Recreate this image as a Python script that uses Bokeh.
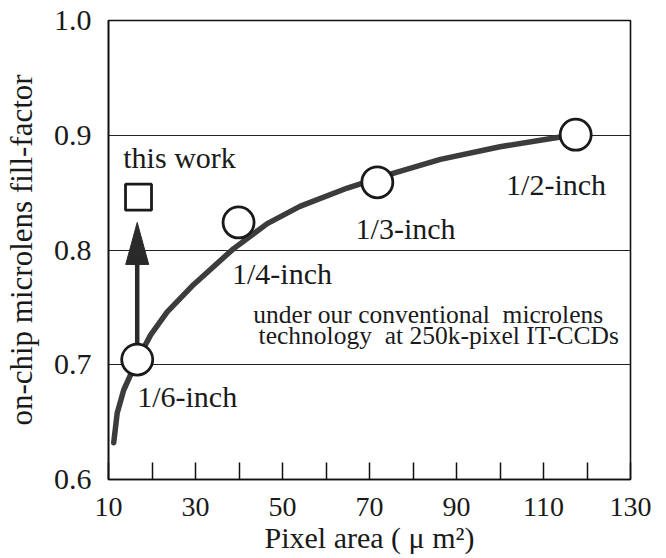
from bokeh.plotting import figure
from bokeh.models import FixedTicker, Label, PrintfTickFormatter
from bokeh.embed import file_html
from bokeh.resources import INLINE

QFONT = "'Liberation Serif'"

# ---- data ----
curve_x = [11.2, 12.0, 13.5, 16.6, 19.7, 23.5, 29.6, 38.7, 46.5, 54.0, 64.9, 75.6, 86.3, 100.0, 113.9, 117.4]
curve_y = [0.632, 0.658, 0.678, 0.704, 0.726, 0.746, 0.770, 0.801, 0.823, 0.838, 0.854, 0.867, 0.879, 0.890, 0.8985, 0.9005]

sensor_x = [16.6, 39.9, 71.8, 117.4]
sensor_y = [0.7045, 0.824, 0.859, 0.9005]
sensor_labels = ["1/6-inch", "1/4-inch", "1/3-inch", "1/2-inch"]
sensor_label_x = [16.6, 38.4, 66.8, 101.4]
sensor_label_y = [0.6645, 0.772, 0.811, 0.849]

this_work_x = [16.9]
this_work_y = [0.846]
this_work_label = "this work"
this_work_label_x = 13.4
this_work_label_y = 0.873

arrow_x = 16.6
arrow_y0 = 0.715
arrow_y1 = 0.824

note_lines = ["under our conventional\u00a0 microlens", "technology\u00a0 at 250k-pixel IT-CCDs"]
note_x = [43.3, 44.5]
note_y = [0.7356, 0.718]

x_label_ticks = [10, 30, 50, 70, 90, 110, 130]
x_minor_ticks = [20, 40, 60, 80, 100, 120]
y_ticks = [0.6, 0.7, 0.8, 0.9, 1.0]
y_grid = [0.7, 0.8, 0.9]

x_title = "Pixel area ( \u03bc m\u00b2)"
y_title = "on-chip microlens fill-factor"

X_RANGE = (10, 130)
Y_RANGE = (0.6, 1.0)

# ---- layout ----
W, H = 666, 558
BL, BR, BT, BB = 108, 36, 20, 79
FRAME_W = W - BL - BR
FRAME_H = H - BT - BB
INK = "#1a1a1a"
TEXT_LIFT = 9

p = figure(width=W, height=H, x_range=X_RANGE, y_range=Y_RANGE,
           output_backend="svg", toolbar_location=None,
           min_border_left=BL, min_border_right=BR, min_border_top=BT, min_border_bottom=BB)
p.background_fill_color = "white"
p.border_fill_color = "white"
p.outline_line_color = "#111111"
p.outline_line_width = 1.6

# x axis
p.xaxis.ticker = FixedTicker(ticks=x_label_ticks, minor_ticks=x_minor_ticks)
p.xaxis.major_tick_in = 17
p.xaxis.major_tick_out = 0
p.xaxis.minor_tick_in = 17
p.xaxis.minor_tick_out = 0
p.xaxis.major_tick_line_color = "#111111"
p.xaxis.minor_tick_line_color = "#111111"
p.xaxis.major_tick_line_width = 1.5
p.xaxis.minor_tick_line_width = 1.5
p.xaxis.axis_line_color = "#111111"
p.xaxis.axis_line_width = 1.6
p.xaxis.major_label_standoff = 18
p.xaxis.major_label_text_font = QFONT
p.xaxis.major_label_text_font_size = "28px"
p.xaxis.major_label_text_color = INK
p.xaxis.axis_label = x_title
p.xaxis.axis_label_text_font = QFONT
p.xaxis.axis_label_text_font_size = "30px"
p.xaxis.axis_label_text_font_style = "normal"
p.xaxis.axis_label_text_color = INK
p.xaxis.axis_label_standoff = 2

# y axis
p.yaxis.ticker = FixedTicker(ticks=y_ticks)
p.yaxis.formatter = PrintfTickFormatter(format="%.1f")
p.yaxis.major_tick_in = 0
p.yaxis.major_tick_out = 0
p.yaxis.minor_tick_line_color = None
p.yaxis.axis_line_color = "#111111"
p.yaxis.axis_line_width = 1.6
p.yaxis.major_label_standoff = 17
p.yaxis.major_label_text_font = QFONT
p.yaxis.major_label_text_font_size = "30px"
p.yaxis.major_label_text_color = INK
p.yaxis.axis_label = y_title
p.yaxis.axis_label_text_font = QFONT
p.yaxis.axis_label_text_font_size = "31px"
p.yaxis.axis_label_text_font_style = "normal"
p.yaxis.axis_label_text_color = INK
p.yaxis.axis_label_standoff = 12

# grid
p.xgrid.visible = False
p.ygrid.ticker = FixedTicker(ticks=y_grid)
p.ygrid.grid_line_color = "#222222"
p.ygrid.grid_line_width = 1.1

# fitted curve
p.line(curve_x, curve_y, line_color="#3c3c3c", line_width=5.5, line_cap="round", line_join="round")

# arrow
px_x = (X_RANGE[1] - X_RANGE[0]) / FRAME_W
px_y = (Y_RANGE[1] - Y_RANGE[0]) / FRAME_H
head_len = 42 * px_y
head_half = 11.5 * px_x
p.line([arrow_x, arrow_x], [arrow_y0, arrow_y1 - head_len * 0.9], line_color="#2a2a2a", line_width=4.5)
p.patch([arrow_x - head_half, arrow_x, arrow_x + head_half],
        [arrow_y1 - head_len, arrow_y1, arrow_y1 - head_len],
        fill_color="#2a2a2a", line_color="#2a2a2a", line_width=1)

# markers
p.scatter(sensor_x, sensor_y, marker="circle", size=31, fill_color="white",
          line_color=INK, line_width=2.8)
p.scatter(this_work_x, this_work_y, marker="square", size=26, fill_color="white",
          line_color=INK, line_width=2.8)

# texts
def add_text(x, y, t, size):
    p.add_layout(Label(x=x, y=y, y_offset=TEXT_LIFT, text=t, text_font=QFONT, text_font_size=size,
                       text_align="left", text_baseline="alphabetic", text_color=INK))

for lx, ly, lt in zip(sensor_label_x, sensor_label_y, sensor_labels):
    add_text(lx, ly, lt, "30px")
add_text(this_work_label_x, this_work_label_y, this_work_label, "30px")
for nx, ny, nt in zip(note_x, note_y, note_lines):
    add_text(nx, ny, nt, "25.5px")

open("out.html", "w").write(file_html(p, INLINE))
